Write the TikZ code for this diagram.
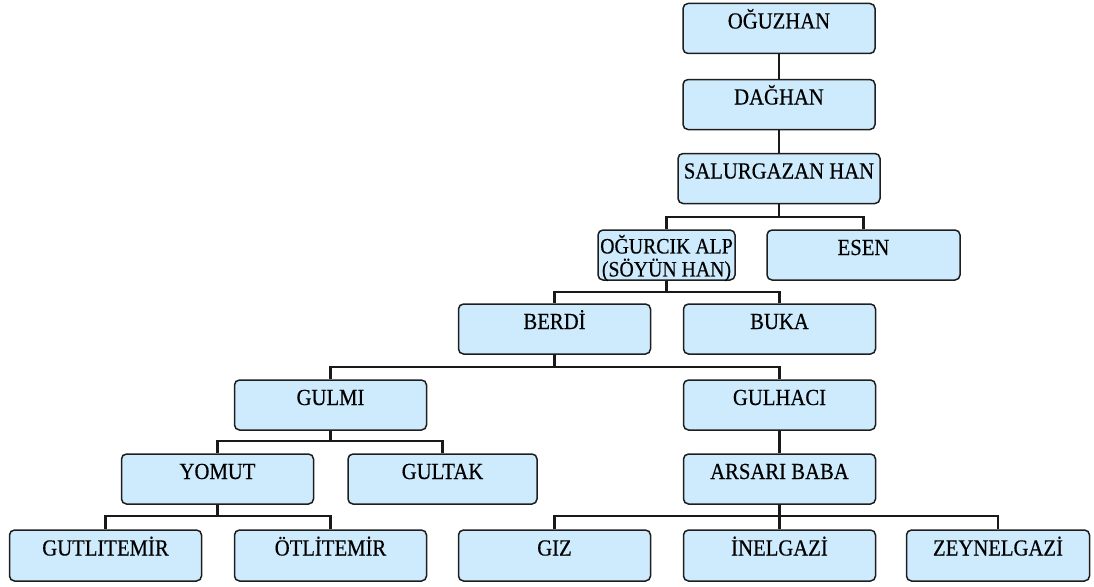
\documentclass[tikz,border=0pt]{standalone}
\usepackage{fontspec}
\setmainfont{Liberation Serif}[FakeStretch=0.9,FakeBold=0.4]
\definecolor{boxfill}{RGB}{205,235,252}
\definecolor{boxline}{RGB}{30,30,30}
\begin{document}
\begin{tikzpicture}[x=1pt,y=-1pt,
  boxbase/.style={draw=boxline,line width=1.5pt,fill=boxfill,rounded corners=5pt,
    minimum width=192pt,minimum height=50pt,inner sep=0pt},
  person/.style={boxbase,text height=14pt,text depth=14pt,font=\fontsize{23}{26}\selectfont},
  link/.style={line width=2.2pt,draw=black!90}]
\useasboundingbox (0,0) rectangle (1094,586);
% bus levels
\coordinate (b1) at (0,217);
\coordinate (b2) at (0,292);
\coordinate (b3) at (0,367);
\coordinate (b4) at (0,441);
\coordinate (b5) at (0,516);
% nodes
\node[person] (oguz) at (779,28.5) {OĞUZHAN};
\node[person] (dag) at (779,104.5) {DAĞHAN};
\node[person,minimum width=202pt] (sal) at (779,178.5) {SALURGAZAN HAN};
\node[boxbase,minimum width=137pt] (ogur) at (666.5,255) {};
\node[font=\fontsize{22}{23}\selectfont,align=center,inner sep=0pt] (ogurtext) at (666.5,258) {OĞURCIK ALP\\(SÖYÜN HAN)};
\node[person,minimum width=193pt] (esen) at (863.5,255) {ESEN};
\node[person] (berdi) at (554.5,329) {BERDİ};
\node[person] (buka) at (779.5,329) {BUKA};
\node[person] (gulmi) at (330.5,405) {GULMI};
\node[person] (gulhaci) at (779.5,405) {GULHACI};
\node[person] (yomut) at (217.5,479) {YOMUT};
\node[person,minimum width=189pt] (gultak) at (442.5,479) {GULTAK};
\node[person] (arsari) at (779.5,479) {ARSARI BABA};
\node[person,minimum height=51pt] (gut) at (105.5,555.5) {GUTLITEMİR};
\node[person,minimum height=51pt] (otl) at (330.5,555.5) {ÖTLİTEMİR};
\node[person,minimum height=51pt] (giz) at (554.5,555.5) {GIZ};
\node[person,minimum height=51pt] (inel) at (779.5,555.5) {İNELGAZİ};
\node[person,minimum height=51pt,minimum width=183pt] (zey) at (998,555.5) {ZEYNELGAZİ};
% connectors
\draw[link] (oguz.south) -- (dag.north);
\draw[link] (dag.south) -- (sal.north);
\draw[link] (sal.south) -- (sal.south |- b1) -| (ogur.north);
\draw[link] (sal.south) -- (sal.south |- b1) -| (esen.north);
\draw[link] (ogur.south) -- (ogur.south |- b2) -| (berdi.north);
\draw[link] (ogur.south) -- (ogur.south |- b2) -| (buka.north);
\draw[link] (berdi.south) -- (berdi.south |- b3) -| (gulmi.north);
\draw[link] (berdi.south) -- (berdi.south |- b3) -| (gulhaci.north);
\draw[link] (gulmi.south) -- (gulmi.south |- b4) -| (yomut.north);
\draw[link] (gulmi.south) -- (gulmi.south |- b4) -| (gultak.north);
\draw[link] (gulhaci.south) -- (arsari.north);
\draw[link] (yomut.south) -- (yomut.south |- b5) -| (gut.north);
\draw[link] (yomut.south) -- (yomut.south |- b5) -| (otl.north);
\draw[link] (arsari.south) -- (arsari.south |- b5) -| (giz.north);
\draw[link] (arsari.south) -- (arsari.south |- b5) -| (inel.north);
\draw[link] (arsari.south) -- (arsari.south |- b5) -| (zey.north);
\end{tikzpicture}
\end{document}
